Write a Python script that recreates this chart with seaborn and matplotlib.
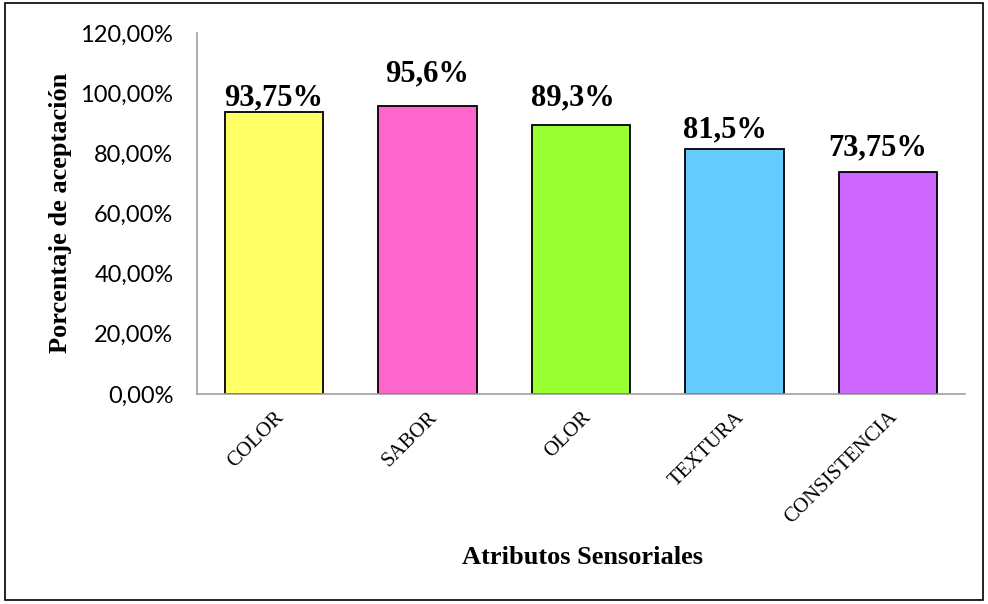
import matplotlib
matplotlib.use("Agg")
import matplotlib.pyplot as plt
import seaborn as sns
import pandas as pd
from matplotlib.patches import Rectangle
from matplotlib.ticker import FuncFormatter

categorias = ["COLOR", "SABOR", "OLOR", "TEXTURA", "CONSISTENCIA"]
valores = [93.75, 95.6, 89.3, 81.5, 73.75]
etiquetas = ["93,75%", "95,6%", "89,3%", "81,5%", "73,75%"]
colores = ["#FFFF66", "#FF66CC", "#99FF33", "#66CCFF", "#CC66FF"]
# label anchor heights (data units) and horizontal shifts, styling only
label_y = [93.5, 101.5, 93.5, 83.0, 77.0]
label_dx = [0.0, 0.0, -0.05, -0.06, -0.07]

sns.set_style("white")
plt.rcParams.update({"text.color": "black", "xtick.color": "black",
                     "ytick.color": "black", "axes.labelcolor": "black"})
df = pd.DataFrame({"cat": categorias, "val": valores})

fig = plt.figure(figsize=(9.88, 6.04), dpi=100)
ax = fig.add_axes([197/988, 1-394/604, (965-197)/988, (394-33)/604])

sns.barplot(data=df, x="cat", y="val", hue="cat", palette=colores, saturation=1,
            width=0.64, edgecolor="black", linewidth=1.3, legend=False, ax=ax)

ax.set_ylim(0, 120)
ax.set_xlim(-0.5, 4.5)
ax.set_yticks(range(0, 121, 20))
ax.yaxis.set_major_formatter(FuncFormatter(lambda v, p: f"{v:.2f}".replace(".", ",") + "%"))
for t in ax.get_yticklabels():
    t.set_fontfamily("Lato")
    t.set_fontsize(17)
ax.tick_params(axis="y", length=0, pad=17, labelcolor="black")
ax.tick_params(axis="x", length=0, pad=10, labelcolor="black")
ax.set_xticks(range(len(categorias)))
ax.set_xticklabels(categorias, rotation=45, ha="right", rotation_mode="anchor",
                   fontfamily="Liberation Serif", fontsize=15, color="black")

for s in ["top", "right"]:
    ax.spines[s].set_visible(False)
ax.spines["left"].set_color("#a0a0a0")
ax.spines["bottom"].set_color("#a0a0a0")
ax.spines["left"].set_linewidth(1.2)
ax.spines["bottom"].set_linewidth(1.2)

for i, (txt, ly, dx) in enumerate(zip(etiquetas, label_y, label_dx)):
    ax.text(i + dx, ly, txt, ha="center", va="bottom", fontfamily="Liberation Serif",
            fontweight="bold", fontsize=22, color="black")

ax.set_xlabel("")
ax.set_ylabel("")
fig.text(60/988, 1-213/604, "Porcentaje de aceptación", rotation=90, ha="center", va="center",
         fontfamily="Liberation Serif", fontweight="bold", fontsize=19, color="black")
fig.text(582/988, 1-557/604, "Atributos Sensoriales", ha="center", va="center",
         fontfamily="Liberation Serif", fontweight="bold", fontsize=19, color="black")

fig.patches.append(Rectangle((5/988, 1-600/604), 978/988, 597/604, transform=fig.transFigure,
                             fill=False, edgecolor="black", linewidth=1.2))

fig.savefig("out.png", dpi=100)
